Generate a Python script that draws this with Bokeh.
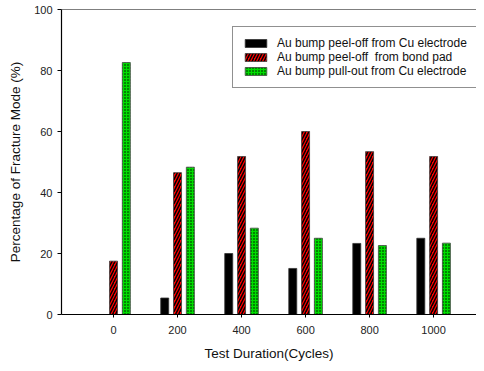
from bokeh.plotting import figure
from bokeh.models import ColumnDataSource, Range1d, Span, Legend, LegendItem, FixedTicker
from bokeh.transform import dodge
from bokeh.embed import file_html
from bokeh.resources import INLINE

cycles = [0, 200, 400, 600, 800, 1000]
cu_peel = [0, 5.4, 20.0, 15.1, 23.3, 25.0]
pad_peel = [17.5, 46.5, 51.8, 60.0, 53.4, 51.8]
pull_out = [82.6, 48.3, 28.3, 25.0, 22.6, 23.4]
labels = ["Au bump peel-off from Cu electrode",
          "Au bump peel-off  from bond pad",
          "Au bump pull-out from Cu electrode"]

src = ColumnDataSource(dict(cycles=cycles, cu=cu_peel, pad=pad_peel, pull=pull_out))

FONT = "Liberation Sans"
p = figure(width=476, height=363, output_backend="svg", toolbar_location=None,
           x_range=Range1d(-162.5, 1134), y_range=Range1d(0, 100),
           min_border_left=61, min_border_right=0, min_border_top=9, min_border_bottom=48)
p.grid.visible = False
p.outline_line_color = None

w = 25
r1 = p.vbar(x=dodge("cycles", -40, range=p.x_range), top="cu", width=w, source=src,
            fill_color="black", line_color="#333333", line_width=0.8)
r2 = p.vbar(x=dodge("cycles", 0, range=p.x_range), top="pad", width=w, source=src,
            fill_color="#ff0000", line_color="#444444", line_width=0.8,
            hatch_pattern="right_diagonal_line", hatch_color="black", hatch_scale=6, hatch_weight=1.5)
r3 = p.vbar(x=dodge("cycles", 40, range=p.x_range), top="pull", width=w, source=src,
            fill_color="#00dd00", line_color="#444444", line_width=0.8,
            hatch_pattern="dot", hatch_color="black", hatch_scale=3, hatch_weight=2)

p.add_layout(Span(location=100, dimension="width", line_color="black", line_width=1.2))

for ax in (p.xaxis[0], p.yaxis[0]):
    ax.axis_line_color = "black"
    ax.axis_line_width = 1.2
    ax.major_tick_line_color = "black"
    ax.major_tick_out = 4
    ax.major_tick_in = 0
    ax.minor_tick_line_color = None
    ax.major_label_text_font = FONT
    ax.major_label_text_font_size = "11px"
    ax.major_label_text_color = "#222222"
    ax.axis_label_text_font = FONT
    ax.axis_label_text_font_size = "13.5px"
    ax.axis_label_text_font_style = "normal"
    ax.axis_label_text_color = "#111111"

p.xaxis.ticker = FixedTicker(ticks=cycles)
p.yaxis.ticker = FixedTicker(ticks=[0, 20, 40, 60, 80, 100])
p.xaxis.major_tick_out = 3
p.xaxis.major_label_standoff = 8
p.xaxis.axis_label = "Test Duration(Cycles)"
p.xaxis.axis_label_standoff = 9
p.yaxis.axis_label = "Percentage of Fracture Mode (%)"
p.yaxis.axis_label_standoff = 8
p.yaxis.major_label_standoff = 5

legend = Legend(items=[LegendItem(label=labels[0], renderers=[r1]),
                       LegendItem(label=labels[1], renderers=[r2]),
                       LegendItem(label=labels[2], renderers=[r3])],
                location=(171, 226))
legend.glyph_width = 27
legend.glyph_height = 10
legend.label_height = 10
legend.spacing = 0
legend.padding = 9
legend.margin = 0
legend.label_standoff = 8
legend.label_text_font = FONT
legend.label_text_font_size = "12px"
legend.label_text_color = "#111111"
legend.border_line_color = "#222222"
legend.border_line_width = 1.5
legend.background_fill_alpha = 1
p.add_layout(legend, "center")

open("out.html", "w").write(file_html(p, INLINE))
